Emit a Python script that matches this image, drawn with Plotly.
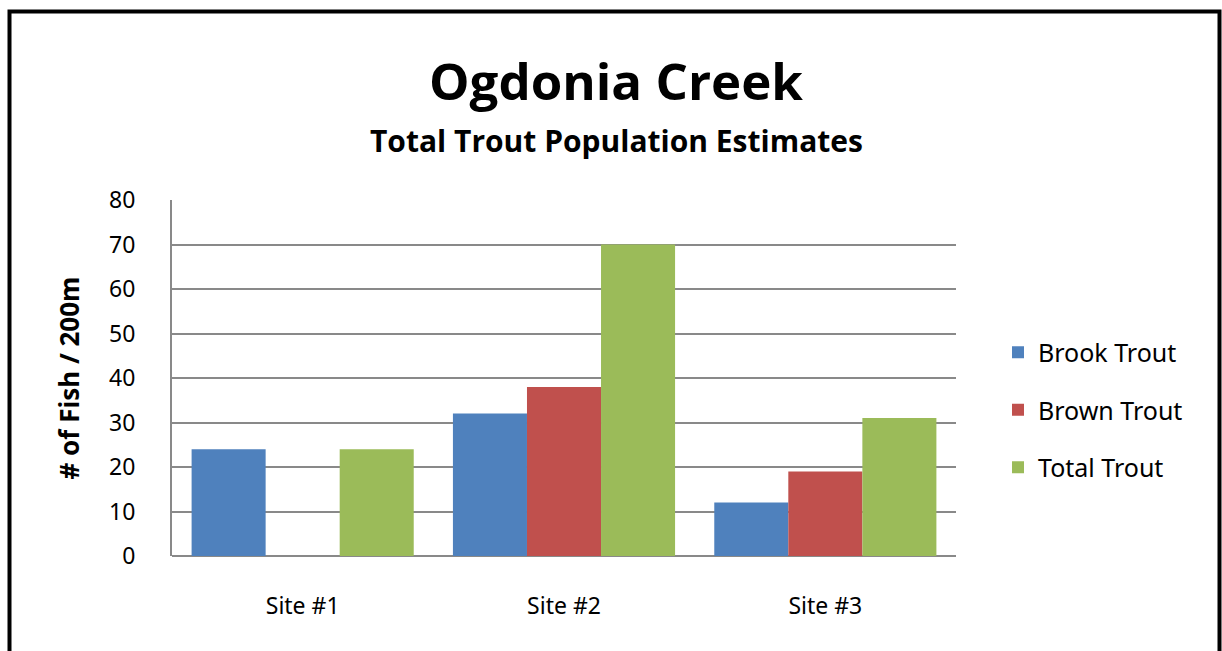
import plotly.graph_objects as go

sites = ["Site #1", "Site #2", "Site #3"]
brook = [24, 32, 12]
brown = [0, 38, 19]
total = [24, 70, 31]
series_names = ["Brook Trout", "Brown Trout", "Total Trout"]
colors = ["#4F81BD", "#C0504D", "#9BBB59"]
y_ticks = [0, 10, 20, 30, 40, 50, 60, 70, 80]

fig = go.Figure()
for i, (name, vals, col) in enumerate(zip(series_names, [brook, brown, total], colors)):
    fig.add_trace(go.Bar(x=sites, y=vals, name=name, legendgroup="g%d" % i,
                         marker=dict(color=col, line=dict(width=0))))

W, H = 1222, 651
L, R, T, B = 172, 266, 200, 95
pw = W - L - R
ph = H - T - B

def px_x(x):
    return (x - L) / pw

def px_y(y):
    return (H - B - y) / ph

fig.update_layout(
    width=W, height=H,
    margin=dict(l=L, r=R, t=T, b=B),
    paper_bgcolor="white", plot_bgcolor="white",
    barmode="group", bargap=0.15, bargroupgap=0,
    font=dict(family="Noto Sans", color="black"),
    showlegend=True,
    legend=dict(x=px_x(998), y=px_y(410), xanchor="left", yanchor="middle",
                font=dict(size=25, family="Noto Sans", color="black"),
                tracegroupgap=22, itemwidth=30, bgcolor="rgba(0,0,0,0)"),
    xaxis=dict(showgrid=False, showline=False, ticks="", tickfont=dict(size=23),
               ticklabelstandoff=34),
    yaxis=dict(range=[0, 80], tickvals=y_ticks, showgrid=True, gridcolor="#898989",
               gridwidth=2, showline=True, linecolor="#898989", linewidth=2,
               zeroline=True, zerolinecolor="#898989", zerolinewidth=2,
               ticks="", tickfont=dict(size=23), ticklabelstandoff=30,
               title=dict(text="<b># of Fish / 200m</b>", font=dict(size=26), standoff=22)),
    annotations=[
        dict(text="<b>Ogdonia Creek</b>", xref="paper", yref="paper", x=px_x(616), y=px_y(80),
             xanchor="center", yanchor="middle", showarrow=False,
             font=dict(size=51, family="Open Sans", color="black")),
        dict(text="<b>Total Trout Population Estimates</b>", xref="paper", yref="paper",
             x=px_x(616), y=px_y(140), xanchor="center", yanchor="middle", showarrow=False,
             font=dict(size=30, family="Open Sans", color="black")),
    ],
    shapes=[
        dict(type="rect", xref="paper", yref="paper", x0=px_x(9.5), x1=px_x(1219.5),
             y0=px_y(11.5), y1=px_y(700), line=dict(color="black", width=4),
             fillcolor="rgba(0,0,0,0)", layer="above"),
    ],
)

fig.write_html(
    "out.html",
    config={"displayModeBar": False},
    post_script="document.body.style.margin='0';document.body.style.overflow='hidden';"
                "document.documentElement.style.overflow='hidden';",
)
